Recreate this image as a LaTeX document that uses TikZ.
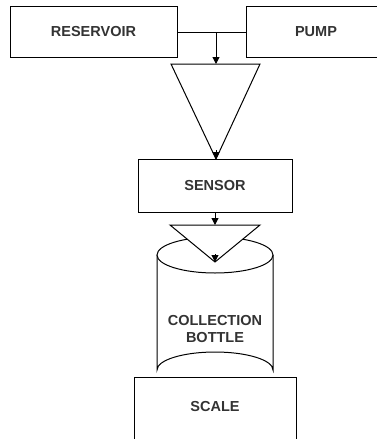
\documentclass[tikz,border=0pt]{standalone}
\usepackage{fontspec}
\setmainfont{Liberation Sans}
\usetikzlibrary{arrows.meta}
\definecolor{txt}{HTML}{333333}
\begin{document}
\begin{tikzpicture}[x=1pt,y=-1pt,line width=1pt,
  box/.style={draw=black,fill=white,rectangle,minimum width=#1,inner sep=0pt},
  lbl/.style={font=\fontsize{14.5}{17.5}\selectfont\bfseries,text=txt,align=center},
  arr/.style={-{Triangle[length=7pt,width=7pt]}}]
\useasboundingbox (0,0) rectangle (377,439);
\clip (0,0) rectangle (377,439);
% top boxes
\node[box=167,minimum height=51] (res) at (93.5,31.5) {};
\node[lbl] at (res.center) {RESERVOIR};
\node[box=140,minimum height=51] (pump) at (316,31.5) {};
\node[lbl] at (pump.center) {PUMP};
\coordinate (j) at (216,32);
\draw (res.east |- j) -- (pump.west |- j);
% funnel 1
\coordinate (t1l) at (171,64);
\coordinate (t1r) at (260,64);
\coordinate (t1a) at (216,159);
\coordinate (t1t) at (216,64);
\draw[fill=white] (t1l) -- (t1r) -- (t1a) -- cycle;
\draw[arr] (j) -- (t1t);
% sensor
\node[box=154,minimum height=53] (sensor) at (215,185.5) {};
\node[lbl] at (sensor.center) {SENSOR};
\coordinate (t1b) at (216,150);
\draw[arr] (t1b) -- (t1a);
% scale
\node[draw,fill=white,minimum width=162,minimum height=80,inner sep=0pt,anchor=north] (scale) at (215,377) {};
\node[lbl] at (215,407) {SCALE};
% cylinder
\draw[fill=white] (157,255) -- (157,370) arc[start angle=180,end angle=360,x radius=58,y radius=18] -- (273,255);
\draw[fill=white] (215,255) ellipse[x radius=58,y radius=18];
\node[lbl] (bottle) at (215,329) {COLLECTION\\BOTTLE};
% funnel 2
\coordinate (t2l) at (170,225);
\coordinate (t2r) at (260,225);
\coordinate (t2a) at (215,262);
\coordinate (t2t) at (215,225);
\coordinate (t2b) at (215,254);
\draw[fill=white] (t2l) -- (t2r) -- (t2a) -- cycle;
\draw[arr] (sensor.south -| t2t) -- (t2t);
\draw[arr] (t2b) -- (t2a);
\end{tikzpicture}
\end{document}
